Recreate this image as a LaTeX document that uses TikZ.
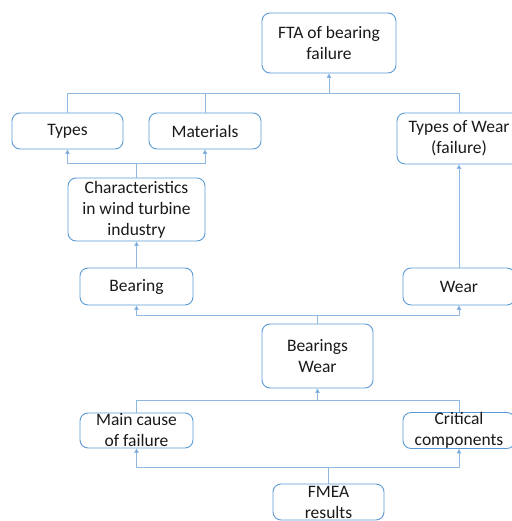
\documentclass[tikz,border=0pt]{standalone}
\usepackage{fontspec}
\setmainfont{Carlito}
\usetikzlibrary{arrows.meta}
\definecolor{boxblue}{HTML}{5B9BD5}
\definecolor{linkblue}{HTML}{8EB8E2}
\definecolor{txt}{HTML}{1A1A1A}
\tikzset{
  box/.style={draw=boxblue, line width=0.9pt, rounded corners=8pt, inner sep=0pt,
    align=center, text=txt, font=\fontsize{17.5}{21}\selectfont},
  link/.style={draw=linkblue, line width=0.8pt, -{Triangle[length=4.5pt,width=4.5pt,fill=boxblue]}},
  plain/.style={draw=linkblue, line width=0.8pt}
}
\begin{document}
\begin{tikzpicture}[x=1pt,y=1pt]
\useasboundingbox (0,0) rectangle (511,-521);
\fill[white] (0,0) rectangle (511,-521);
\node[box, minimum width=134pt, minimum height=60pt] (fta) at (329,-43) {FTA of bearing\\failure};
\node[box, minimum width=111pt, minimum height=36pt] (types) at (67.5,-131) {Types};
\node[box, minimum width=112pt, minimum height=36pt] (mat) at (205,-131) {Materials};
\node[box, minimum width=124pt, minimum height=51pt] (tow) at (459,-138.5) {Types of Wear\\(failure)};
\node[box, minimum width=137pt, minimum height=63pt] (char) at (136.5,-209.5) {Characteristics\\in wind turbine\\industry};
\node[box, minimum width=113pt, minimum height=37pt] (bearing) at (136.5,-286.5) {Bearing};
\node[box, minimum width=112pt, minimum height=37pt] (wear) at (459,-286.5) {Wear};
\node[box, minimum width=111pt, minimum height=64pt] (bw) at (317.5,-356) {Bearings\\Wear};
\node[box, minimum width=113pt, minimum height=35pt] (main) at (136.5,-430.5) {Main cause\\of failure};
\node[box, minimum width=112pt, minimum height=35pt] (crit) at (459,-430.5) {Critical\\components};
\node[box, minimum width=111pt, minimum height=36pt] (fmea) at (328.5,-502) {FMEA\\results};
\coordinate (b1) at (329,-93);
\coordinate (b2) at (136.5,-163);
\coordinate (b3) at (317.5,-315);
\coordinate (b4) at (317.5,-400);
\coordinate (b5) at (328.5,-467);
% to FTA
\draw[plain] (types.north) |- (b1);
\draw[plain] (mat.north) |- (b1);
\draw[plain] (tow.north) |- (b1);
\draw[link] (b1) -- (fta.south);
% characteristics to types/materials
\draw[plain] (char.north) -- (b2);
\draw[link] (b2) -| (types.south);
\draw[link] (b2) -| (mat.south);
% bearing to characteristics, wear to types of wear
\draw[link] (bearing.north) -- (char.south);
\draw[link] (wear.north) -- (tow.south);
% bearings wear to bearing/wear
\draw[plain] (bw.north) -- (b3);
\draw[link] (b3) -| (bearing.south);
\draw[link] (b3) -| (wear.south);
% main/crit to bearings wear
\draw[plain] (main.north) |- (b4);
\draw[plain] (crit.north) |- (b4);
\draw[link] (b4) -- (bw.south);
% fmea to main/crit
\draw[plain] (fmea.north) -- (b5);
\draw[link] (b5) -| (main.south);
\draw[link] (b5) -| (crit.south);
\end{tikzpicture}
\end{document}
